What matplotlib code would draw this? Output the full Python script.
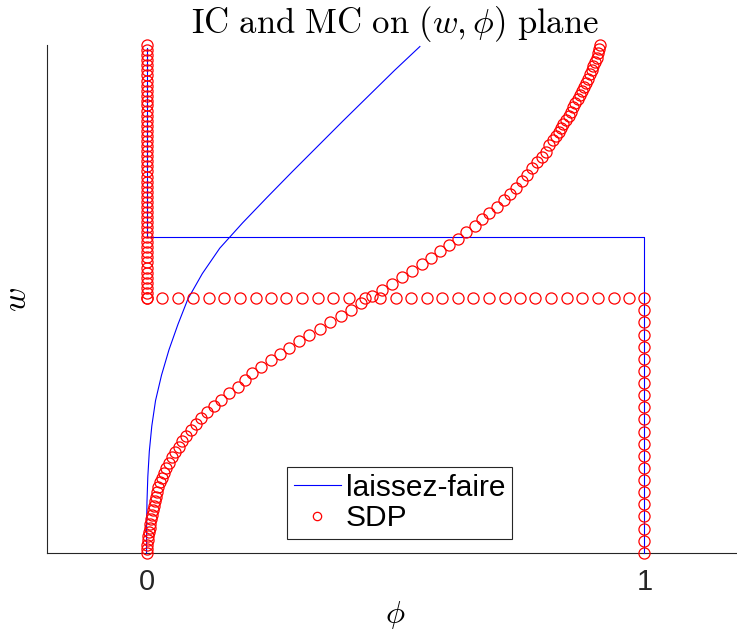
import matplotlib
matplotlib.use("Agg")
import matplotlib.pyplot as plt

# ---- data ----
# laissez-faire (blue): curve and the rectangle-shaped path
lf_curve_w = [0.0, 0.05, 0.10, 0.15, 0.20, 0.25, 0.30, 0.35, 0.40, 0.45, 0.50,
              0.55, 0.60, 0.65, 0.70, 0.75, 0.80, 0.85, 0.90, 0.95, 0.997]
lf_curve_phi = [0.0, 0.0001, 0.0008, 0.0025, 0.0055, 0.0105, 0.018, 0.030, 0.045,
                0.063, 0.083, 0.112, 0.147, 0.193, 0.242, 0.292, 0.343, 0.394,
                0.446, 0.498, 0.549]
lf_path_phi = [0.0, 0.0, 1.0, 1.0]
lf_path_w = [0.995, 0.622, 0.622, 0.0]

# SDP (red circles): S-curve
sdp_curve_phi = [0.000, 0.0005, 0.0013, 0.0024, 0.0035, 0.0049, 0.0062, 0.0074, 0.0090,
                 0.0105, 0.0122, 0.0140, 0.0160, 0.0180, 0.0200, 0.0225, 0.0265, 0.0300,
                 0.0345, 0.0395, 0.0445, 0.0505, 0.0575, 0.0650, 0.0720, 0.0800, 0.0890,
                 0.0990, 0.1100, 0.1220, 0.1350, 0.1490, 0.165, 0.183, 0.197,
                 0.212, 0.230, 0.249, 0.268, 0.287, 0.307, 0.327, 0.348, 0.368, 0.390,
                 0.411, 0.431, 0.452, 0.473, 0.493, 0.514, 0.533, 0.553, 0.572, 0.590,
                 0.608, 0.625, 0.642, 0.659, 0.673, 0.688, 0.703, 0.717, 0.730, 0.742,
                 0.754, 0.765, 0.775, 0.785, 0.794, 0.802, 0.809, 0.817, 0.822, 0.828,
                 0.832, 0.837, 0.842, 0.848, 0.852, 0.857, 0.861, 0.866, 0.871, 0.875,
                 0.879, 0.883, 0.887, 0.891, 0.895, 0.897, 0.901, 0.904, 0.907, 0.909,
                 0.911]
sdp_curve_w = [0.000, 0.008, 0.016, 0.025, 0.033, 0.042, 0.050, 0.058, 0.067,
               0.075, 0.084, 0.093, 0.102, 0.111, 0.120, 0.129, 0.139, 0.148,
               0.158, 0.168, 0.178, 0.188, 0.198, 0.209, 0.220, 0.231, 0.243,
               0.254, 0.266, 0.278, 0.290, 0.302, 0.314, 0.326, 0.340,
               0.354, 0.366, 0.379, 0.391, 0.404, 0.417, 0.429, 0.441, 0.454, 0.467,
               0.479, 0.492, 0.505, 0.518, 0.530, 0.543, 0.556, 0.569, 0.581, 0.594,
               0.606, 0.618, 0.631, 0.644, 0.657, 0.670, 0.682, 0.695, 0.707, 0.719,
               0.732, 0.745, 0.757, 0.769, 0.780, 0.790, 0.803, 0.813, 0.821, 0.828,
               0.836, 0.844, 0.852, 0.860, 0.869, 0.877, 0.885, 0.893, 0.902, 0.909,
               0.918, 0.926, 0.934, 0.942, 0.951, 0.959, 0.967, 0.975, 0.984, 0.992,
               1.000]
# SDP: column at phi = 0
sdp_col0_w = [0.502, 0.512, 0.522, 0.532, 0.542, 0.552, 0.562, 0.572, 0.582, 0.592,
              0.602, 0.612, 0.622, 0.632, 0.642, 0.651, 0.661, 0.671, 0.681, 0.691,
              0.701, 0.711, 0.721, 0.731, 0.741, 0.751, 0.761, 0.771, 0.781, 0.791,
              0.801, 0.811, 0.821, 0.831, 0.841, 0.851, 0.861, 0.871, 0.881, 0.890,
              0.900, 0.910, 0.920, 0.930, 0.940, 0.950, 0.960, 0.970, 0.980, 0.990, 1.000]
# SDP: row at w = 0.502
sdp_row_phi = [0, 0.031, 0.063, 0.094, 0.125, 0.156, 0.188, 0.219, 0.250, 0.281, 0.313,
               0.344, 0.375, 0.406, 0.438, 0.469, 0.500, 0.531, 0.563, 0.594, 0.625,
               0.656, 0.688, 0.719, 0.750, 0.781, 0.813, 0.844, 0.875, 0.906, 0.938,
               0.969, 1.000]
sdp_row_w_value = 0.502
# SDP: column at phi = 1
sdp_col1_w = [0.478, 0.454, 0.430, 0.406, 0.382, 0.359, 0.335, 0.311, 0.287, 0.263,
              0.239, 0.215, 0.191, 0.167, 0.143, 0.120, 0.096, 0.072, 0.048, 0.024, 0.000]

xtick_vals = [0, 1]
xtick_labels = ["0", "1"]

# ---- figure ----
plt.rcParams["mathtext.fontset"] = "cm"
plt.rcParams["font.family"] = ["Liberation Sans", "DejaVu Sans"]

W, H = 737, 637
fig = plt.figure(figsize=(W / 100, H / 100), dpi=100)
ax = fig.add_axes([47 / W, 1 - 553 / H, 697 / W, 508 / H])

blue = (0, 0, 1)
red = (1, 0, 0)
lw = 0.8

sdp_phi = (sdp_curve_phi + [0.0] * len(sdp_col0_w) + sdp_row_phi
           + [1.0] * len(sdp_col1_w))
sdp_w = (sdp_curve_w + sdp_col0_w + [sdp_row_w_value] * len(sdp_row_phi)
         + sdp_col1_w)

ax.plot(lf_curve_phi, lf_curve_w, color=blue, lw=lw, label="laissez-faire",
        clip_on=False, zorder=3)
ax.plot(lf_path_phi, lf_path_w, color=blue, lw=lw, clip_on=False, zorder=3)
ax.plot(sdp_phi, sdp_w, linestyle="none", marker="o", markersize=8,
        markerfacecolor="none", markeredgecolor=red, markeredgewidth=0.9,
        label="SDP", clip_on=False, zorder=4)

ax.set_xlim(-0.2, 1.2)
ax.set_ylim(0, 1)
ax.set_xticks(xtick_vals)
ax.set_xticklabels(xtick_labels)
ax.set_yticks([])
ax.tick_params(axis="x", length=0, labelsize=21, pad=11, colors="0.15")
for s in ["top", "right"]:
    ax.spines[s].set_visible(False)
for s in ["left", "bottom"]:
    ax.spines[s].set_color("0.15")
    ax.spines[s].set_linewidth(0.8)

ax.set_title(r"$\mathrm{IC\ and\ MC\ on\ }(w,\phi)\mathrm{\ plane}$", fontsize=25, pad=9)
ax.set_xlabel(r"$\phi$", fontsize=23, labelpad=2)
ax.set_ylabel(r"$w$", fontsize=24, labelpad=10)

leg = ax.legend(loc="upper left", bbox_to_anchor=(287 / W, 1 - 467 / H),
                bbox_transform=fig.transFigure, fontsize=21.5, numpoints=1,
                handlelength=1.6, handletextpad=0.15, borderpad=0.22,
                labelspacing=0.08, borderaxespad=0, fancybox=False,
                framealpha=1, edgecolor="0.15")
leg.get_frame().set_linewidth(0.8)
for h in leg.legend_handles:
    if hasattr(h, "set_markersize"):
        h.set_markersize(6)

fig.savefig("out.png", dpi=100)
